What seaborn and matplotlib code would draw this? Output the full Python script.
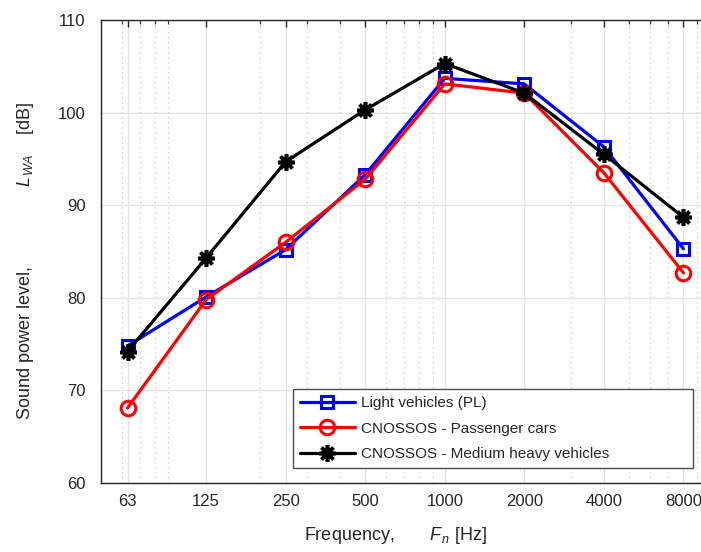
import numpy as np
import pandas as pd
import matplotlib
matplotlib.use("Agg")
import matplotlib.pyplot as plt
from matplotlib.ticker import FixedLocator, FixedFormatter, LogLocator, NullFormatter
import seaborn as sns

# octave band centre frequencies and sound power levels
freqs = [63, 125, 250, 500, 1000, 2000, 4000, 8000]
freq_labels = ["63", "125", "250", "500", "1000", "2000", "4000", "8000"]
light_pl = [74.8, 80.1, 85.2, 93.3, 103.7, 103.1, 96.3, 85.3]
cnossos_cars = [68.1, 79.8, 86.0, 92.8, 103.1, 102.1, 93.5, 82.7]
cnossos_medium = [74.2, 84.3, 94.7, 100.3, 105.3, 102.1, 95.5, 88.7]

sns.set_theme(style="white")
plt.rcParams["font.family"] = ["Liberation Sans", "DejaVu Sans"]
plt.rcParams["mathtext.fontset"] = "custom"
plt.rcParams["mathtext.rm"] = "Liberation Sans"
plt.rcParams["mathtext.it"] = "Liberation Sans:italic"

fig = plt.figure(figsize=(7.01, 5.52), dpi=100)
ax = fig.add_axes([101 / 701, 69 / 552, 608 / 701, 463 / 552])

lw = 2.3
sns.lineplot(x=freqs, y=light_pl, ax=ax, color="#0000ff", lw=lw, marker="s",
             markersize=9, markerfacecolor="none", markeredgecolor="#0000ff",
             markeredgewidth=2.2, label="Light vehicles (PL)")
sns.lineplot(x=freqs, y=cnossos_cars, ax=ax, color="#ff0000", lw=lw, marker="o",
             markersize=10.5, markerfacecolor="none", markeredgecolor="#ff0000",
             markeredgewidth=2.2, label="CNOSSOS - Passenger cars")
sns.lineplot(x=freqs, y=cnossos_medium, ax=ax, color="black", lw=lw, marker=(8, 2, 0),
             markersize=12, markeredgecolor="black", markeredgewidth=2.6,
             label="CNOSSOS - Medium heavy vehicles")

ax.set_xscale("log")
ax.set_xlim(50, 10000)
ax.set_ylim(60, 110)
ax.xaxis.set_major_locator(FixedLocator(freqs))
ax.xaxis.set_major_formatter(FixedFormatter(freq_labels))
ax.xaxis.set_minor_locator(LogLocator(base=10, subs=np.arange(2, 10)))
ax.xaxis.set_minor_formatter(NullFormatter())
ax.set_yticks([60, 70, 80, 90, 100, 110])

ax.grid(True, which="major", color="#e3e3e3", lw=1.0, ls="-")
ax.grid(True, which="minor", axis="x", color="#c4c4c4", lw=0.9, ls=(0, (1, 3)))
ax.set_axisbelow(True)

for s in ax.spines.values():
    s.set_color("#262626")
    s.set_linewidth(1.0)

ax.tick_params(which="both", direction="in", top=True, right=True,
               colors="#262626", labelsize=12)
ax.tick_params(which="major", length=5, width=1)
ax.tick_params(which="minor", length=3, width=0.8)
ax.tick_params(axis="x", which="major", pad=8)
ax.tick_params(axis="y", which="major", pad=11)

ax.set_xlabel("Frequency,       $F_{\\,n}$ [Hz]", fontsize=13, color="#262626")
ax.set_ylabel("Sound power level,                $L_{\\,WA}$    [dB]", fontsize=13,
              color="#262626")
ax.xaxis.set_label_coords((396 - 101) / 608, -0.09)
ax.yaxis.set_label_coords((36 - 101) / 608, 0.48)

leg = ax.legend(loc="lower left", bbox_to_anchor=(192 / 608, 15 / 463, 400 / 608, 0.2),
                mode="expand", borderaxespad=0, fontsize=11, frameon=True,
                fancybox=False, framealpha=1, edgecolor="#4d4d4d",
                handlelength=3.6, labelspacing=0.75, handletextpad=0.4,
                borderpad=0.45)
leg.get_frame().set_linewidth(1.0)
for t in leg.get_texts():
    t.set_color("#262626")

fig.savefig("out.png", dpi=100)
